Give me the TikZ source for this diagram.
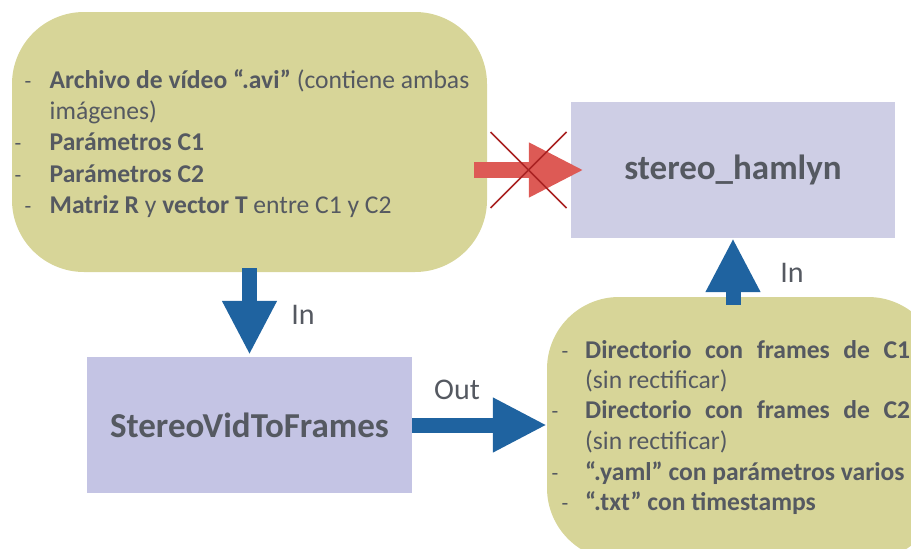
\documentclass[tikz,border=0pt]{standalone}
\usepackage{fontspec}
\setmainfont{Carlito}
\usetikzlibrary{arrows.meta,calc}
\definecolor{khaki}{RGB}{215,213,152}
\definecolor{lavA}{RGB}{206,206,229}
\definecolor{lavB}{RGB}{196,196,228}
\definecolor{flowblue}{RGB}{31,99,160}
\definecolor{nogored}{RGB}{221,90,85}
\definecolor{crossred}{RGB}{170,35,35}
\definecolor{textgray}{RGB}{85,89,97}
\tikzset{
  inbox/.style={fill=khaki, rounded corners=72pt, inner sep=0pt},
  procbox/.style={inner sep=0pt, text=textgray, font=\fontsize{35}{42}\selectfont\bfseries},
  flow/.style={draw=flowblue, line width=15pt, -{Triangle[length=54pt,width=51pt]}},
  nogo/.style={draw=nogored, line width=16pt, -{Triangle[length=55pt,width=51pt]}},
  cross/.style={draw=crossred, line width=1.6pt},
  tag/.style={text=textgray, font=\fontsize{30}{36}\selectfont},
  item/.style={anchor=base west, inner sep=0pt, text=textgray, font=\fontsize{25.6}{31}\selectfont},
  bul/.style={anchor=base, inner sep=0pt, text=textgray, font=\fontsize{22}{31}\selectfont}
}
\begin{document}
\begin{tikzpicture}[x=1pt,y=-1pt]
    \useasboundingbox (0,0) rectangle (911,549);
    \clip (0,0) rectangle (911,549);
    % boxes
    \node[inbox, minimum width=475pt, minimum height=260pt] (src) at (249.5,142) {};
    \node[inbox, minimum width=393pt, minimum height=263pt] (frames) at (743.5,428.5) {};
    \node[procbox, fill=lavA, minimum width=324pt, minimum height=136pt] (hamlyn) at (733,170) {stereo\_hamlyn};
    \node[procbox, fill=lavB, minimum width=325pt, minimum height=136pt] (vid) at (249.5,425) {StereoVidToFrames};
    % inputs of StereoVidToFrames
    \node[bul] at (28,88) {-};
    \node[item] (s1) at (49.5,88) {\textbf{Archivo de vídeo “.avi”} (contiene ambas};
    \node[item] (s2) at (49.5,119) {imágenes)};
    \node[bul] at (18,150) {-};
    \node[item] (s3) at (49.5,150) {\textbf{Parámetros C1}};
    \node[bul] at (18,182) {-};
    \node[item] (s4) at (49.5,182) {\textbf{Parámetros C2}};
    \node[bul] at (28,213) {-};
    \node[item] (s5) at (49.5,213) {\textbf{Matriz R} y \textbf{vector T} entre C1 y C2};
    % outputs of StereoVidToFrames
    \node[bul] at (565,358) {-};
    \node[item] (f1) at (585,358) {\makebox[325pt][s]{\bfseries Directorio con frames de C1}};
    \node[item] (f2) at (585,388) {(sin rectificar)};
    \node[bul] at (555,418) {-};
    \node[item] (f3) at (585,418) {\makebox[325pt][s]{\bfseries Directorio con frames de C2}};
    \node[item] (f4) at (585,449) {(sin rectificar)};
    \node[bul] at (555,480) {-};
    \node[item] (f5) at (585,480) {\textbf{“.yaml” con parámetros varios}};
    \node[bul] at (565,510) {-};
    \node[item] (f6) at (585,510) {\textbf{“.txt” con timestamps}};
    % arrows
    \draw[nogo] ($(src.east |- hamlyn.west)+(-13,0)$) -- ($(hamlyn.west)+(13,0)$);
    \coordinate (nogo) at (528.5,170);
    \draw[cross] ($(nogo)+(-38,-38)$) -- ($(nogo)+(38,38)$);
    \draw[cross] ($(nogo)+(-38,38)$) -- ($(nogo)+(38,-38)$);
    \draw[flow] ($(src.south)+(0,-4)$) -- ($(vid.north)+(0,-2)$);
    \draw[flow] (vid.east) -- (vid.east -| frames.west);
    \draw[flow] ($(frames.north -| hamlyn.south)+(0,8)$) -- (hamlyn.south);
    % labels
    \node[tag] (inA) at (303,315) {In};
    \node[tag] (out) at (457,390) {Out};
    \node[tag] (inB) at (792,273) {In};
\end{tikzpicture}
\end{document}
